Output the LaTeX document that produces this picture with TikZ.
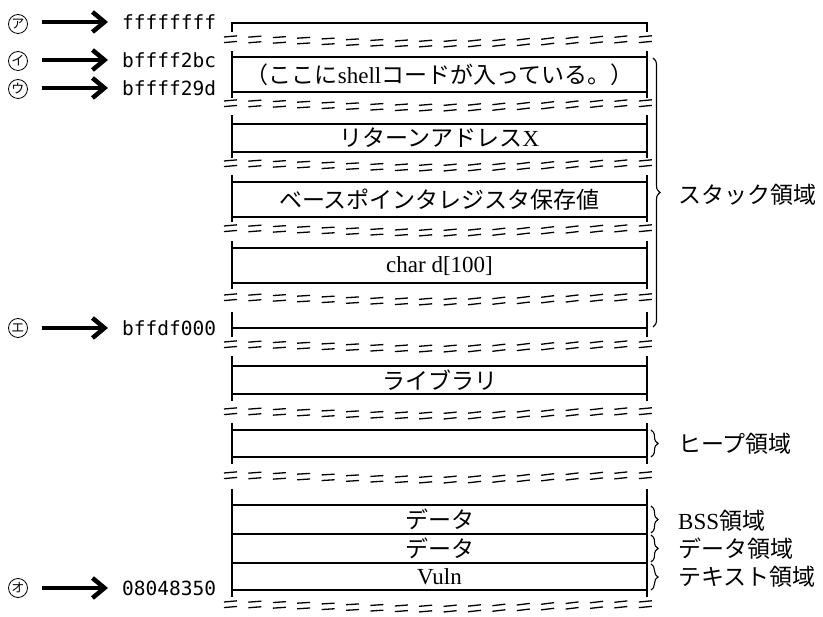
\documentclass[tikz,border=0pt]{standalone}
\usepackage{fontspec}
\setmainfont{Liberation Serif}
\newfontfamily\jp{Noto Sans CJK JP}
\newfontfamily\mono{DejaVu Sans Mono}
\usetikzlibrary{arrows.meta,decorations.pathreplacing}
\newcommand\membreak[1]{%
  \foreach \i in {0,...,17}{%
    \pgfmathsetmacro\xa{224+\i*24.4}%
    \pgfmathsetmacro\fa{-2.2*cos((\xa-223)/427*360)}%
    \pgfmathsetmacro\fb{-2.2*cos((\xa+13-223)/427*360)}%
    \draw[brk] (\xa,{#1-2.8+\fa}) -- ({\xa+13},{#1-2.8+\fb-1.2});
    \draw[brk] (\xa,{#1+2.8+\fa}) -- ({\xa+13},{#1+2.8+\fb-1.2});
  }}
\begin{document}
\begin{tikzpicture}[x=1pt,y=-1pt,
  ln/.style={line width=1.1pt},
  brk/.style={line width=1.3pt},
  lbl/.style={font=\fontsize{23}{26}\selectfont, inner sep=0pt},
  addr/.style={font=\mono\fontsize{19.5}{22}\selectfont, anchor=west, inner sep=0pt},
  circ/.style={circle, draw, line width=0.8pt, minimum size=19pt, inner sep=0pt, font=\jp\fontsize{13}{13}\selectfont},
  bigarrow/.style={line width=4.5pt, -{Straight Barb[length=12pt,width=20pt]}},
  brc/.style={decorate, decoration={brace, amplitude=7pt}, line width=1.1pt},
  side/.style={font=\jp\fontsize{23}{26}\selectfont, anchor=west, inner sep=0pt}
]
\useasboundingbox (0,0) rectangle (823,617);

% ---- segments: verticals and horizontal lines
% S1
\draw[ln] (232,32) -- (232,23) -- (647,23) -- (647,32);
\membreak{42}
% S2
\draw[ln] (232,51) -- (232,98) (647,51) -- (647,98);
\draw[ln] (232,57) -- (647,57) (232,92) -- (647,92);
\membreak{106}
% S3
\draw[ln] (232,115) -- (232,158) (647,115) -- (647,158);
\draw[ln] (232,124) -- (647,124) (232,152) -- (647,152);
\membreak{166}
% S4
\draw[ln] (232,175) -- (232,222) (647,175) -- (647,222);
\draw[ln] (232,182) -- (647,182) (232,217) -- (647,217);
\membreak{231}
% S5
\draw[ln] (232,241) -- (232,289) (647,241) -- (647,289);
\draw[ln] (232,248) -- (647,248) (232,283) -- (647,283);
\membreak{300}
% S6
\draw[ln] (232,312) -- (232,337) (647,312) -- (647,337);
\draw[ln] (232,328) -- (647,328);
\membreak{347}
% S7
\draw[ln] (232,356) -- (232,401) (647,356) -- (647,401);
\draw[ln] (232,366) -- (647,366) (232,394) -- (647,394);
\membreak{414}
% S8
\draw[ln] (232,423) -- (232,464) (647,423) -- (647,464);
\draw[ln] (232,430) -- (647,430) (232,457) -- (647,457);
\membreak{478}
% S9
\draw[ln] (232,489) -- (232,597) (647,489) -- (647,597);
\draw[ln] (232,505) -- (647,505) (232,534) -- (647,534) (232,563) -- (647,563) (232,590) -- (647,590);
\membreak{607}

% ---- box texts
\node[lbl] (shell) at (439.5,75) {{\jp （ここに}shell{\jp コードが入っている。）}};
\node[lbl] (ret) at (439.5,138) {{\jp リターンアドレス}X};
\node[lbl] (bp) at (439.5,200) {{\jp ベースポインタレジスタ保存値}};
\node[lbl] (chr) at (439.5,266) {char d[100]};
\node[lbl] (lib) at (439.5,380) {{\jp ライブラリ}};
\node[lbl] (d1) at (439.5,519.5) {{\jp データ}};
\node[lbl] (d2) at (439.5,548.5) {{\jp データ}};
\node[lbl] (vuln) at (439.5,576.5) {Vuln};

% ---- left addresses
\node[circ] (cA) at (18,24) {ア};
\node[circ] (cB) at (18,61) {イ};
\node[circ] (cC) at (18,89) {ウ};
\node[circ] (cD) at (18,328) {エ};
\node[circ] (cE) at (18,588) {オ};
\node[addr] (aA) at (122,22) {ffffffff};
\node[addr] (aB) at (122,60) {bffff2bc};
\node[addr] (aC) at (122,88) {bffff29d};
\node[addr] (aD) at (122,328) {bffdf000};
\node[addr] (aE) at (122,588) {08048350};
\foreach \c/\a in {cA/aA,cB/aB,cC/aC,cD/aD,cE/aE}{
  \draw[bigarrow] ([xshift=14pt]\c.east |- \a.west) -- ([xshift=-14pt]\a.west);
}

% ---- braces and labels
\draw[brc] (653,58) -- (653,327);
\node[side] (stk) at (678,195) {スタック領域};
\draw[brc] (651,430) -- (651,457);
\node[side] (heap) at (678,444) {ヒープ領域};
\draw[brc] (651,506) -- (651,533);
\node[side] (bss) at (678,521) {{\rmfamily BSS}領域};
\draw[brc] (651,535) -- (651,562);
\node[side] (dat) at (678,549) {データ領域};
\draw[brc] (651,564) -- (651,590);
\node[side] (txt) at (678,577) {テキスト領域};
\end{tikzpicture}
\end{document}
